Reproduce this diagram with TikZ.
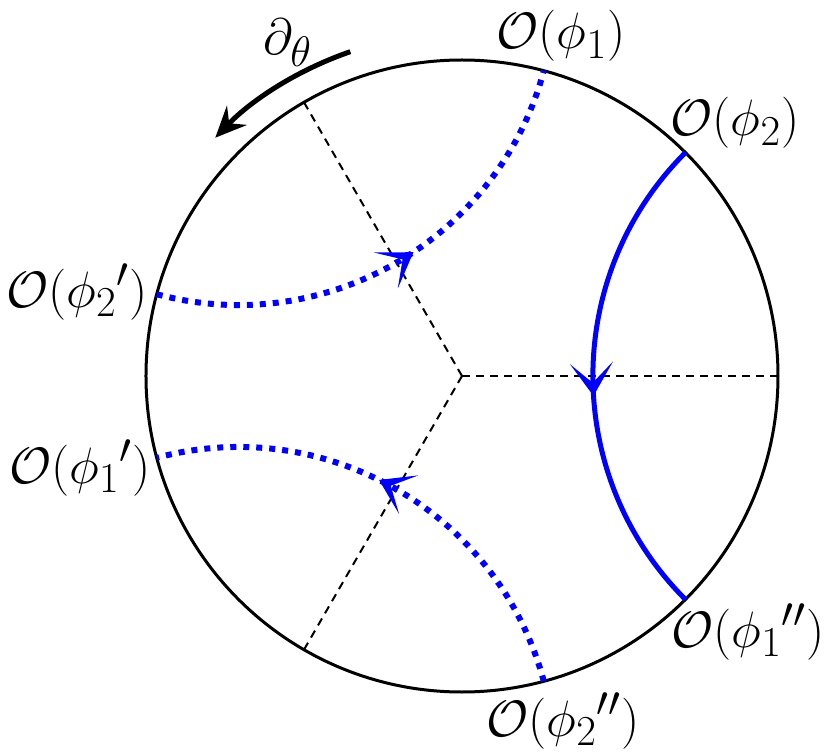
\documentclass[tikz,border=0pt]{standalone}
\usetikzlibrary{arrows.meta,decorations.markings}
\begin{document}
\begin{tikzpicture}[lbl/.style={font=\Huge,scale=1.17,inner sep=1pt},
  geo/.style={blue,postaction={decorate},decoration={markings,
    mark=at position 0.54 with {\arrow{Stealth[length=0.66cm,width=0.86cm,inset=0.4cm]}}}},
  geodot/.style={geo,line width=0.12cm,dash pattern=on 0.12cm off 0.14cm},
  ray/.style={line width=0.04cm,dash pattern=on 0.16cm off 0.12cm}]
\useasboundingbox (-9.24,-7.6) rectangle (7.38,7.52);
% boundary and the three sectors
\coordinate (c) at (0,0);
\draw[line width=0.06cm] (c) circle (6.32);
\foreach \a/\n in {0/r1,120/r2,240/r3}
  \coordinate (\n) at (\a:6.32);
\draw[ray] (c) -- (r1);
\draw[ray] (c) -- (r2);
\draw[ray] (c) -- (r3);
% end points of the geodesics
\coordinate (p2) at (45:6.32);
\coordinate (q1) at (-45:6.32);
\coordinate (p1) at (75:6.32);
\coordinate (q2) at (165:6.32);
\coordinate (s1) at (195:6.32);
\coordinate (s2) at (285:6.32);
\draw[geo,line width=0.1cm] (p2) arc[start angle=135,end angle=225,radius=6.32];
\draw[geodot] (q2) arc[start angle=255,end angle=345,radius=6.32];
\draw[geodot] (s2) arc[start angle=15,end angle=105,radius=6.32];
% labels
\node[lbl] (o1) at (1.98,6.8) {$\mathcal{O}(\phi_1)$};
\node[lbl] (o2) at (5.46,5.06) {$\mathcal{O}(\phi_2)$};
\node[lbl] (o2p) at (-7.7,1.68) {$\mathcal{O}({\phi_2}')$};
\node[lbl] (o1p) at (-7.64,-1.84) {$\mathcal{O}({\phi_1}')$};
\node[lbl] (o1pp) at (5.72,-5.12) {$\mathcal{O}({\phi_1}'')$};
\node[lbl] (o2pp) at (2.02,-6.9) {$\mathcal{O}({\phi_2}'')$};
\node[lbl] (dt) at (-3.48,6.66) {$\partial_\theta$};
\draw[line width=0.1cm,-{Stealth[length=0.62cm,width=0.55cm,inset=0.22cm]}]
  (109:6.86) arc[start angle=109,end angle=136,radius=6.86];
\end{tikzpicture}
\end{document}
